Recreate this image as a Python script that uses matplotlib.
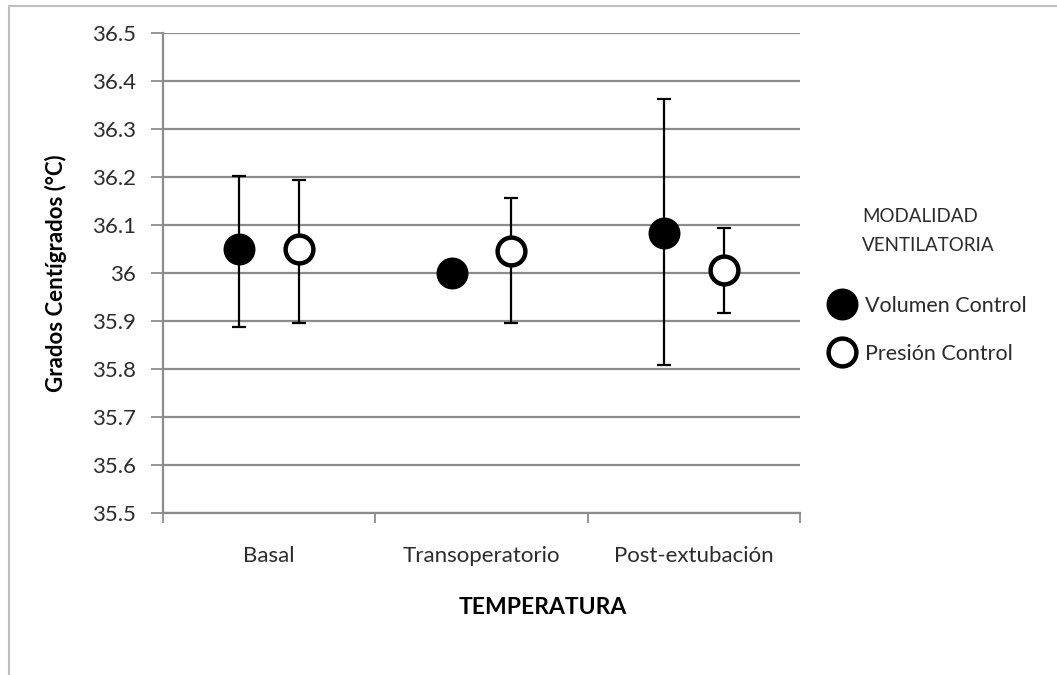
import matplotlib.pyplot as plt
from matplotlib.patches import Rectangle

categorias = ["Basal", "Transoperatorio", "Post-extubación"]

# medias y límites de las barras de error (°C)
volumen_media = [36.05, 36.00, 36.083]
volumen_sup = [36.203, 36.00, 36.363]
volumen_inf = [35.888, 36.00, 35.809]

presion_media = [36.05, 36.045, 36.006]
presion_sup = [36.194, 36.156, 36.094]
presion_inf = [35.896, 35.896, 35.916]

plt.rcParams['font.family'] = ['Lato', 'DejaVu Sans']
texto = '#2b2b2b'
gris = '#8c8c8c'

fig = plt.figure(figsize=(10.57, 6.75), dpi=100)
ax = fig.add_axes([0.1542, 0.24, 0.6027, 0.711])

# marco exterior del gráfico
fig.add_artist(Rectangle((9 / 1057, -0.05), 1.2, 0.05 + 669 / 675,
                         transform=fig.transFigure, fill=False,
                         edgecolor='#bfbfbf', linewidth=1.5))

centros = [i + 0.5 for i in range(len(categorias))]
desp = 0.14
x_vol = [c - desp for c in centros]
x_pre = [c + desp for c in centros]

err_vol = [[m - lo for m, lo in zip(volumen_media, volumen_inf)],
           [hi - m for m, hi in zip(volumen_media, volumen_sup)]]
err_pre = [[m - lo for m, lo in zip(presion_media, presion_inf)],
           [hi - m for m, hi in zip(presion_media, presion_sup)]]

ax.errorbar(x_vol, volumen_media, yerr=err_vol, fmt='none', ecolor='black',
            elinewidth=1.6, capsize=5, capthick=1.6, zorder=3)
ax.errorbar(x_pre, presion_media, yerr=err_pre, fmt='none', ecolor='black',
            elinewidth=1.6, capsize=5, capthick=1.6, zorder=3)

ax.plot(x_vol, volumen_media, 'o', ms=22, color='black', zorder=4,
        label='Volumen Control')
ax.plot(x_pre, presion_media, 'o', ms=20, mfc='white', mec='black', mew=3.2,
        zorder=4, label='Presión Control')

ax.set_xlim(0, 3)
ax.set_ylim(35.5, 36.5)
ax.set_yticks([35.5 + 0.1 * i for i in range(11)])
ax.set_yticklabels(['%g' % round(35.5 + 0.1 * i, 1) for i in range(11)])
ax.yaxis.grid(True, color=gris, linewidth=1.6)
ax.set_axisbelow(True)

ax.set_xticks([0, 1, 2, 3])
ax.set_xticklabels([])
ax.set_xticks(centros, minor=True)
ax.set_xticklabels(categorias, minor=True)
ax.tick_params(axis='x', which='minor', length=0, pad=24, labelsize=16,
               labelcolor=texto)
ax.tick_params(axis='x', which='major', length=7, width=1.3, color=gris)
ax.tick_params(axis='y', length=9, width=1.3, color=gris, labelsize=16,
               labelcolor=texto, pad=10.5)

for s in ['top', 'right']:
    ax.spines[s].set_visible(False)
for s in ['left', 'bottom']:
    ax.spines[s].set_color(gris)
    ax.spines[s].set_linewidth(1.6)

ax.set_ylabel('Grados Centígrados (°C)', fontsize=16, fontweight='bold',
              color='black', labelpad=18)
fig.text(543 / 1057, 1 - 607 / 675, 'TEMPERATURA', fontsize=16.5,
         fontweight='bold', ha='center', va='center', color='black')

# encabezado de la leyenda
fig.text(862 / 1057, 1 - 231 / 675, 'MODALIDAD\nVENTILATORIA', fontsize=13.5,
         color=texto, ha='left', va='center', linespacing=1.9)

leg = ax.legend(loc='upper left', bbox_to_anchor=(823 / 1057, 1 - 287 / 675),
                bbox_transform=fig.transFigure, frameon=False, fontsize=15.5,
                handlelength=1.0, handletextpad=0.57, labelspacing=1.3,
                borderaxespad=0)
for t in leg.get_texts():
    t.set_color(texto)

fig.savefig('out.png', dpi=100)
